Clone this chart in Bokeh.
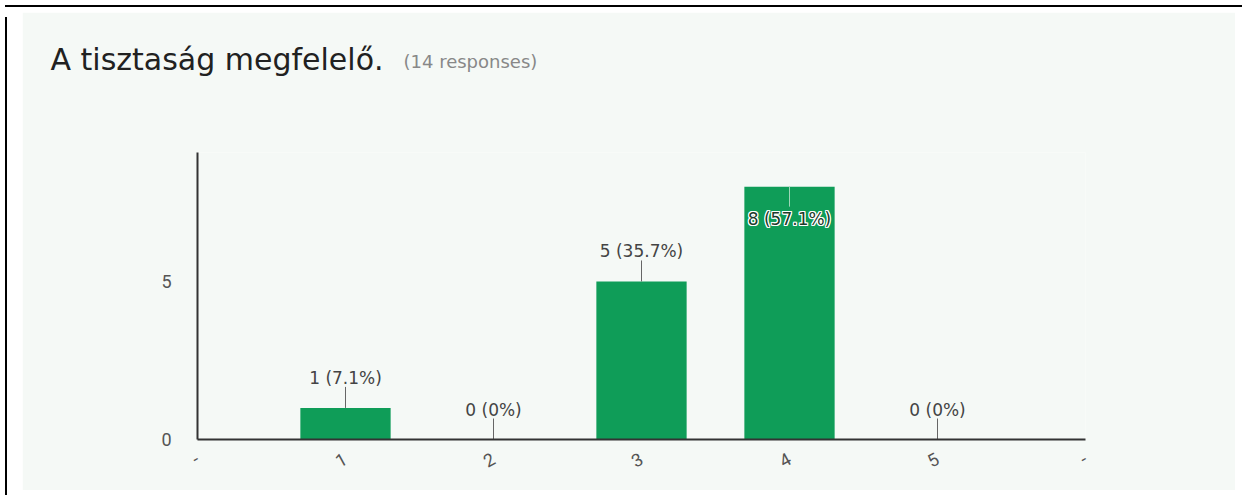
import math
from bokeh.plotting import figure
from bokeh.models import Range1d, FixedTicker, Title, Div, Spacer, ColumnDataSource
from bokeh.layouts import column, row
from bokeh.core.properties import value
from bokeh.embed import file_html
from bokeh.resources import INLINE

# ---- data ----
title_text = "A tisztaság megfelelő."
subtitle_text = "(14 responses)"
categories = ["1", "2", "3", "4", "5"]
counts = [1, 0, 5, 8, 0]
total = 14
y_max = 9.08
y_ticks = [0, 5]

def pct_label(c):
    p = round(100.0 * c / total, 1)
    ps = "0" if p == 0 else f"{p:.1f}"
    return f"{c} ({ps}%)"

xs = [i + 1 for i in range(len(categories))]
labels = [pct_label(c) for c in counts]
inside = [c > y_max - 1.3 for c in counts]

PANEL = "#f5f9f6"
GREEN = "#0f9d58"
FONT = "DejaVu Sans"

p = figure(width=1213, height=478, output_backend="svg", toolbar_location=None,
           x_range=Range1d(0, len(categories) + 1), y_range=Range1d(0, y_max),
           min_border_left=175, min_border_right=150, min_border_top=140,
           min_border_bottom=51, title=None)
p.background_fill_color = PANEL
p.border_fill_color = PANEL
p.outline_line_color = None
p.xgrid.visible = False
p.ygrid.visible = False

p.vbar(x=xs, top=counts, width=0.61, fill_color=GREEN, line_color=None)

# outside labels
out_src = ColumnDataSource(dict(x=[x for x, i in zip(xs, inside) if not i],
                                y=[c for c, i in zip(counts, inside) if not i],
                                t=[l for l, i in zip(labels, inside) if not i]))
p.ray(x="x", y="y", length=21, angle=math.pi / 2, length_units="screen",
      line_color="#666666", line_width=1, source=out_src)
p.text(x="x", y="y", text="t", source=out_src, y_offset=-30, text_align="center",
       text_baseline="middle", text_font=value(FONT), text_font_size="17px",
       text_color="#444444")

# inside labels
in_src = ColumnDataSource(dict(x=[x for x, i in zip(xs, inside) if i],
                               y=[c for c, i in zip(counts, inside) if i],
                               t=[l for l, i in zip(labels, inside) if i]))
p.ray(x="x", y="y", length=20, angle=-math.pi / 2, length_units="screen",
      line_color="#9fd6b8", line_width=1, source=in_src)
for dx in (-1, 0, 1):
    for dy in (-1, 0, 1):
        if dx == 0 and dy == 0:
            continue
        p.text(x="x", y="y", text="t", source=in_src, x_offset=dx, y_offset=32 + dy,
               text_align="center", text_baseline="middle", text_font=value(FONT),
               text_font_size="17px", text_color="white")
p.text(x="x", y="y", text="t", source=in_src, y_offset=32, text_align="center",
       text_baseline="middle", text_font=value(FONT), text_font_size="17px",
       text_color="#1d3b2a")

# axes
p.xaxis.ticker = FixedTicker(ticks=list(range(0, len(categories) + 2)))
p.xaxis.major_label_overrides = {0: "-", len(categories) + 1: "-",
                                 **{x: c for x, c in zip(xs, categories)}}
p.yaxis.ticker = FixedTicker(ticks=y_ticks)
for ax in (p.xaxis[0], p.yaxis[0]):
    ax.axis_line_color = "#333333"
    ax.axis_line_width = 2
    ax.major_tick_line_color = None
    ax.minor_tick_line_color = None
    ax.major_label_text_font = "Roboto"
    ax.major_label_text_font_size = "18px"
    ax.major_label_text_color = "#555555"
p.xaxis.major_label_standoff = 12
p.xaxis.major_label_orientation = 0.5
p.yaxis.major_label_standoff = 20

# titles: both hang upward from the frame top without taking layout space
sub = Title(text=subtitle_text, align="left", offset=206, standoff=-204,
            vertical_align="top",
            text_font=FONT, text_font_size="18px", text_color="#888888",
            text_font_style="normal")
main = Title(text=title_text, align="left", offset=-147, standoff=-222,
             vertical_align="top",
             text_font=FONT, text_font_size="30px", text_color="#212121",
             text_font_style="normal")
p.add_layout(sub, "above")
p.add_layout(main, "above")

top_line = Div(text="", width=1237, height=2, styles={"background-color": "black"})
left_line = Div(text="", width=2, height=478, styles={"background-color": "black"})
layout = column(top_line, row(left_line, Spacer(width=10), p), spacing=0)

open("out.html", "w").write(file_html(layout, INLINE))
